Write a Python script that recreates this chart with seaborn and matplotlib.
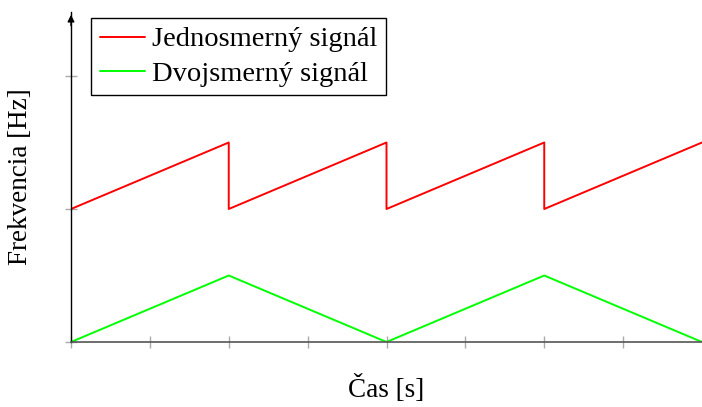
import matplotlib
matplotlib.use("Agg")
import matplotlib.pyplot as plt
import seaborn as sns
import pandas as pd

# Data
red_x = [0, 2, 2, 4, 4, 6, 6, 8]
red_y = [1.0, 1.5, 1.0, 1.5, 1.0, 1.5, 1.0, 1.5]
green_x = [0, 2, 4, 6, 8]
green_y = [0.0, 0.5, 0.0, 0.5, 0.0]
labels = ["Jednosmerný signál", "Dvojsmerný signál"]
x_ticks = [0, 1, 2, 3, 4, 5, 6, 7]
y_ticks = [0, 1, 2]

sns.set_theme(style="white")
plt.rcParams['font.family'] = ['Liberation Serif', 'DejaVu Serif']
plt.rcParams['text.color'] = 'black'
plt.rcParams['axes.labelcolor'] = 'black'

df = pd.concat([
    pd.DataFrame({"x": red_x, "y": red_y, "s": labels[0], "o": range(len(red_x))}),
    pd.DataFrame({"x": green_x, "y": green_y, "s": labels[1], "o": range(len(green_x))}),
])

fig = plt.figure(figsize=(7.02, 4.07), dpi=100)
ax = fig.add_axes([71/702, 1-342/407, 631/702, 330/407])
sns.lineplot(data=df, x="x", y="y", hue="s", units="s", estimator=None, sort=False,
             palette={labels[0]: "#ff0000", labels[1]: "#00ff00"}, lw=1.4, ax=ax, legend=True)

ax.set_xlim(0, 8)
ax.set_ylim(0, 330/133)
ax.set_xticks(x_ticks)
ax.set_yticks(y_ticks)
ax.set_xticklabels([])
ax.set_yticklabels([])
ax.tick_params(axis='both', direction='inout', length=9, width=1, color='#aaaaaa', bottom=True, left=True)
for s in ['top', 'right']:
    ax.spines[s].set_visible(False)
ax.spines['left'].set_color('black')
ax.spines['left'].set_linewidth(1.0)
ax.spines['bottom'].set_color('#555555')
ax.spines['bottom'].set_linewidth(1.2)
ax.annotate('', xy=(0, 1.0), xytext=(0, 0.95), xycoords='axes fraction',
            arrowprops=dict(arrowstyle='-|>', color='black', lw=1.0, mutation_scale=10))

ax.set_xlabel("Čas [s]", fontsize=19.5, labelpad=16, color='black')
ax.set_ylabel("Frekvencia [Hz]", fontsize=19.5, labelpad=19, color='black')

leg = ax.legend(loc='upper left', bbox_to_anchor=(20/631, 1-6/330), fontsize=20.5,
                frameon=True, fancybox=False, edgecolor='black', framealpha=1,
                handlelength=1.6, borderpad=0.3, labelspacing=0.3, handletextpad=0.25,
                borderaxespad=0)
leg.get_frame().set_linewidth(1.0)
leg.set_title(None)
for t in leg.get_texts():
    t.set_color('black')

fig.savefig("out.png", dpi=100)
